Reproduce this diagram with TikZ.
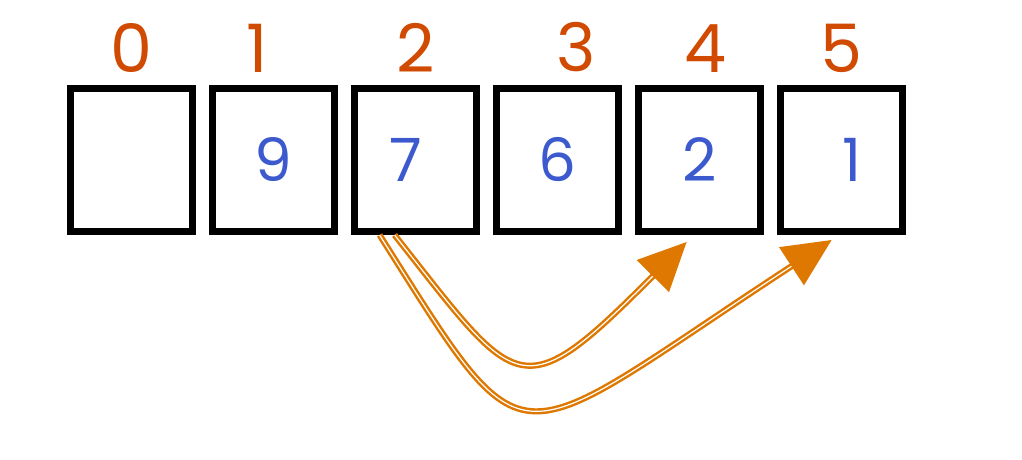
\documentclass[tikz,border=0pt]{standalone}
\usepackage{fontspec}
\setmainfont{Poppins}
\usepackage{tikz}
\usetikzlibrary{arrows.meta,positioning}
\definecolor{idxorange}{RGB}{208,74,2}
\definecolor{valblue}{RGB}{60,90,205}
\definecolor{arrorange}{RGB}{222,120,0}

\begin{document}
\begin{tikzpicture}[
    cell/.style={rectangle, draw, line width=2pt, minimum width=1.22cm, minimum height=1.43cm, inner sep=0pt},
    idx/.style={inner sep=0pt, text=idxorange, font=\fontsize{19}{19}\selectfont},
    val/.style={inner sep=0pt, text=valblue, font=\fontsize{17}{17}\selectfont},
    arr/.style={arrorange, line width=0.7pt, double=white, double distance=0.35pt, -{Triangle[length=0.48cm, width=0.45cm]}}]

    \useasboundingbox (0,0) rectangle (10.22,-4.60);

    % array cells
    \node[cell] (b0) at (1.315,-1.60) {};
    \node[cell, right=0.13cm of b0] (b1) {};
    \node[cell, right=0.13cm of b1] (b2) {};
    \node[cell, right=0.13cm of b2] (b3) {};
    \node[cell, right=0.13cm of b3] (b4) {};
    \node[cell, right=0.13cm of b4] (b5) {};

    % indices
    \node[idx, above=0.12cm of b0] (i0) {0};
    \node[idx, above=0.12cm of b1, xshift=-0.16cm] (i1) {1};
    \node[idx, above=0.12cm of b2] (i2) {2};
    \node[idx, above=0.12cm of b3, xshift=0.19cm] (i3) {3};
    \node[idx, above=0.12cm of b4, xshift=0.06cm] (i4) {4};
    \node[idx, above=0.12cm of b5] (i5) {5};

    % values
    \node[val] (v1) at (b1) {9};
    \node[val] (v2) at ([xshift=-0.1cm]b2.center) {7};
    \node[val] (v3) at (b3) {6};
    \node[val] (v4) at (b4) {2};
    \node[val] (v5) at ([xshift=0.1cm]b5.center) {1};

    % moves
    \coordinate (t4) at ([xshift=-0.13cm, yshift=-0.07cm]b4.south);
    \coordinate (t5) at ([xshift=-0.10cm, yshift=-0.05cm]b5.south);
    \draw[arr] ([xshift=-0.21cm]b2.south) .. controls (5.18,-3.91) and (5.19,-4.11) .. (t4);
    \draw[arr] ([xshift=-0.36cm]b2.south) .. controls (5.32,-4.76) and (5.04,-4.54) .. (t5);
\end{tikzpicture}
\end{document}
